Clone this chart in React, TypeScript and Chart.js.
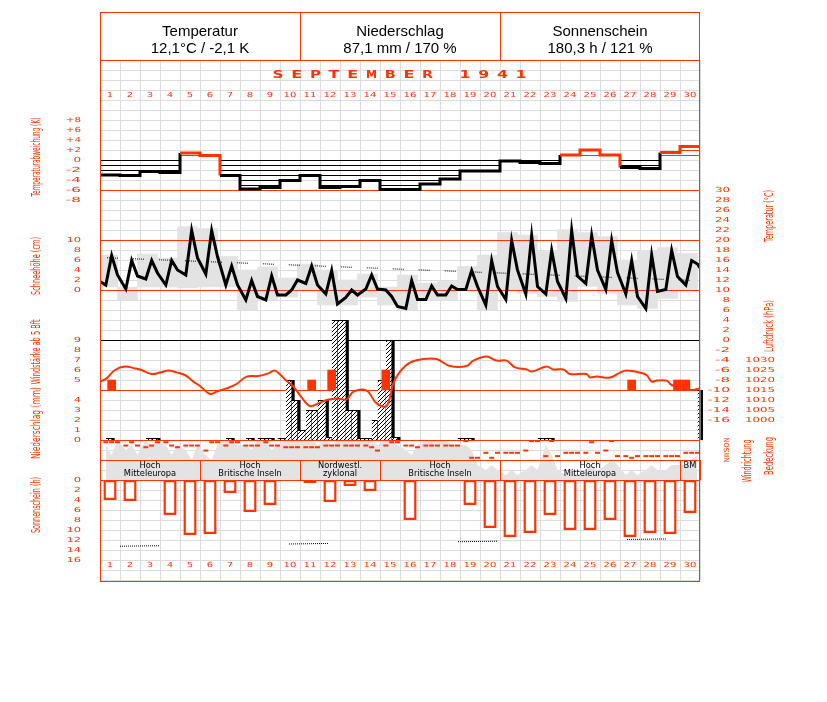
import React, { useEffect, useRef } from 'react';
import { Chart, registerables } from 'chart.js';

Chart.register(...registerables);

const RED = '#ff3300';
const GRAY = '#e3e3e3';
const GRID = '#dcdcdc';
const FONT = '"DejaVu Sans", sans-serif';

// ---------- categories / labels ----------
const dayLabels = ['1','2','3','4','5','6','7','8','9','10','11','12','13','14','15','16','17','18','19','20','21','22','23','24','25','26','27','28','29','30'];
const headerTitles = ['Temperatur', 'Niederschlag', 'Sonnenschein'];
const headerValues = ['12,1°C / -2,1 K', '87,1 mm / 170 %', '180,3 h / 121 %'];
const monthTitle = ['S','E','P','T','E','M','B','E','R','','1','9','4','1'];

// ---------- temperature deviation (K) ----------
const tempDeviation = [-3.0,-3.1,-2.3,-2.5,1.4,0.9,-3.1,-5.8,-5.5,-4.1,-3.1,-5.5,-5.3,-4.1,-5.9,-5.9,-4.8,-3.8,-2.2,-2.2,-0.2,-0.5,-0.7,1.0,2.0,1.0,-1.5,-1.7,1.5,2.7];

// ---------- temperature (°C) at 7, 14, 21 h ----------
const obsHours = [7, 14, 21];
const temp07 = [11.0,10.2,12.2,11.0,13.0,13.2,11.0,8.0,8.0,9.0,11.3,9.2,8.5,10.2,10.0,6.3,8.1,9.0,10.1,7.0,8.1,9.2,9.2,8.3,11.3,10.1,9.2,6.3,10.1,11.0];
const temp14 = [16.9,15.9,15.9,15.9,21.9,21.9,14.8,11.9,12.8,10.0,14.8,13.9,10.0,13.0,8.7,11.9,10.8,10.8,13.9,15.9,19.9,20.9,17.9,21.9,20.9,19.9,15.9,17.0,17.9,15.9];
const temp21 = [13.0,12.8,13.4,14.0,16.4,16.7,11.0,8.7,9.0,12.0,11.0,7.2,9.0,10.2,6.7,8.1,9.0,10.1,10.7,10.7,14.0,10.7,11.7,12.8,14.0,13.5,8.7,9.7,12.7,15.2];
const tempMonthStart = 11.7;
const tempMonthEnd = 14.4;
const tempBoxLow = [10.6,8.0,10.6,10.6,10.4,10.6,10.6,6.0,8.0,8.6,10.0,7.0,7.0,8.6,7.0,6.0,8.0,8.0,10.0,6.0,10.0,9.3,8.7,7.7,10.7,9.3,7.0,6.3,8.3,10.0];
const tempBoxHigh = [17.0,10.6,17.2,16.4,22.7,22.3,16.7,14.0,14.6,12.4,15.2,14.0,12.0,13.2,10.6,13.0,11.4,11.7,14.7,17.0,21.5,21.0,17.7,22.1,21.5,20.7,16.0,17.9,18.5,17.3];
const normalTempStart = 16.5;
const normalTempEnd = 11.85;

// ---------- air pressure (hPa), time in days since month start ----------
const pressureTime = [0,0.33,0.75,1.25,1.75,2.08,2.58,3.0,3.42,3.83,4.25,4.67,5.0,5.5,5.83,6.33,6.83,7.33,7.92,8.42,8.75,9.25,9.67,10.08,10.5,10.92,11.33,11.83,12.33,12.67,13.33,13.83,14.33,14.67,15.0,15.5,16.17,16.83,17.5,18.33,18.67,19.33,19.83,20.33,20.75,21.33,21.58,22.33,22.67,23.17,23.5,24.33,24.5,24.83,25.5,26.0,26.33,27.0,27.33,27.58,27.83,28.33,28.58,28.92,29.5,30.0];
const pressureValue = [1019.2,1020.8,1025.0,1026.7,1025.8,1025.0,1023.0,1023.7,1024.7,1023.8,1022.5,1019.2,1017.0,1013.0,1014.2,1015.8,1018.0,1021.7,1022.0,1023.3,1024.7,1020.3,1016.7,1011.3,1007.0,1008.3,1010.0,1010.8,1010.3,1014.2,1014.7,1008.3,1007.0,1018.3,1024.2,1028.7,1030.5,1030.5,1027.0,1027.0,1029.7,1031.7,1029.7,1029.7,1026.3,1025.3,1024.2,1026.7,1025.3,1025.3,1023.0,1023.0,1021.3,1021.7,1021.2,1023.7,1024.7,1023.7,1022.5,1019.2,1019.7,1019.7,1017.5,1016.7,1015.0,1015.8];

// ---------- wind force >= 5 Bft ----------
const windDay = [1, 11, 12, 15, 27, 29, 30];
const windHour = [14, 14, 14, 7, 14, 21, 7];
const windBft = [5, 5, 6, 6, 5, 5, 5];
const windBase = 4;

// ---------- precipitation (mm): 21h(prev)-7h, 7-14h, 14-21h ----------
const precipNight = [0,0,0,0,0,0,0,0,0.2,0.2,1.0,4.0,12.0,0.2,6.0,0,0,0,0.2,0,0,0,0.2,0,0,0,0,0,0,0];
const precipMorning = [0.2,0,0.2,0,0,0,0.2,0.2,0.2,6.0,3.0,0.3,3.0,0.2,10.0,0,0,0,0.2,0,0,0,0.2,0,0,0,0,0,0,0];
const precipEvening = [0,0,0.2,0,0,0,0,0,0,4.0,3.0,12.0,3.0,2.0,0.3,0,0,0,0,0,0,0,0,0,0,0,0,0,0,0];
const precipAfterMonth = 5.0;

// ---------- sunshine (h) ----------
const sunshine = [4.0,4.2,0,7.0,11.0,10.8,2.6,6.4,5.0,0,0.6,4.4,1.2,2.2,0,8.0,0,0,5.0,9.6,11.4,10.6,7.0,10.0,10.0,8.0,11.4,10.6,10.8,6.6];
const possibleSunStart = 13.3;
const possibleSunEnd = 11.7;

// ---------- cloud cover (octas) and wind direction (deg) at 7, 14, 21 h ----------
const cloud07 = [7,6,8,7,6,5,8,7,8,8,8,8,8,8,8,6,8,8,7,2,1,2,7,1,2,3,1,2,2,3];
const cloud14 = [5,7,7,5,4,4,8,6,6,8,8,7,8,8,8,5,8,7,6,3,2,3,5,2,3,4,2,3,3,4];
const cloud21 = [8,5,8,7,7,7,7,8,7,8,7,8,8,7,7,7,8,7,3,2,1,2,2,1,2,3,1,2,3,5];
const windDir07 = [40,100,130,40,100,190,100,100,40,130,130,100,100,100,100,100,100,100,20,230,230,190,290,230,230,190,290,290,290,230];
const windDir14 = [40,40,100,100,100,40,40,100,100,130,130,100,100,130,40,100,100,100,320,320,230,20,20,230,40,20,320,290,290,230];
const windDir21 = [40,100,40,130,100,40,40,100,100,130,130,100,100,190,40,130,100,100,320,230,230,20,290,230,230,290,290,290,290,230];

// ---------- weather types ----------
const weatherTypeLabels = [['Hoch', 'Mitteleuropa'], ['Hoch', 'Britische Inseln'], ['Nordwestl.', 'zyklonal'], ['Hoch', 'Britische Inseln'], ['Hoch', 'Mitteleuropa'], ['BM']];
const weatherTypeFirstDay = [1, 6, 11, 15, 21, 30];
const weatherTypeLastDay = [5, 10, 14, 20, 29, 30];

// ---------- tick labels ----------
const devTicks = [8, 6, 4, 2, 0, -2, -4, -6, -8];
const snowTicks = [10, 8, 6, 4, 2, 0];
const windTicks = [9, 8, 7, 6, 5];
const precipTicks = [4, 3, 2, 1, 0];
const sunTicks = [0, 2, 4, 6, 8, 10, 12, 14, 16];
const tempTicks = [30,28,26,24,22,20,18,16,14,12,10,8,6,4,2,0,-2,-4,-6,-8,-10,-12,-14,-16];
const pressureTicks = [1030, 1025, 1020, 1015, 1010, 1005, 1000];
const dirTicks = [0, 90, 180, 270, 360];
const dirTickLabels = ['N', 'O', 'S', 'W', 'N'];

function hLinePattern(color: string) {
  const c = document.createElement('canvas');
  c.width = 5; c.height = 5;
  const g = c.getContext('2d')!;
  g.fillStyle = color;
  g.fillRect(0, 0, 5, 1);
  return g.createPattern(c, 'repeat')!;
}
function diagPattern() {
  const c = document.createElement('canvas');
  c.width = 4; c.height = 4;
  const g = c.getContext('2d')!;
  g.fillStyle = '#ffffff';
  g.fillRect(0, 0, 4, 4);
  g.fillStyle = '#000000';
  g.fillRect(3, 0, 1, 1); g.fillRect(2, 1, 1, 1); g.fillRect(1, 2, 1, 1); g.fillRect(0, 3, 1, 1);
  return g.createPattern(c, 'repeat')!;
}

type TxtOpt = { size: number; adv?: number; sx?: number; color?: string; align?: CanvasTextAlign; bold?: boolean; rot?: number; family?: string };
function txt(ctx: CanvasRenderingContext2D, s: string, x: number, y: number, o: TxtOpt) {
  ctx.save();
  ctx.font = `${o.bold ? 'bold ' : ''}${o.size}px ${o.family || FONT}`;
  const w = ctx.measureText(s).width;
  let sx = o.sx || 1;
  if (o.adv && w > 0) sx = (o.adv * s.length) / w;
  ctx.translate(x, y);
  if (o.rot) ctx.rotate(o.rot);
  ctx.scale(sx, 1);
  ctx.fillStyle = o.color || RED;
  ctx.textAlign = o.align || 'center';
  ctx.textBaseline = 'middle';
  ctx.fillText(s, 0, 0);
  ctx.restore();
}

function hLine(ctx: CanvasRenderingContext2D, y: number, x0: number, x1: number, color: string) {
  const yy = Math.round(y) + 0.5;
  ctx.strokeStyle = color;
  ctx.lineWidth = 1;
  ctx.beginPath();
  ctx.moveTo(x0, yy);
  ctx.lineTo(x1, yy);
  ctx.stroke();
}
function vLine(ctx: CanvasRenderingContext2D, x: number, y0: number, y1: number, color: string) {
  const xx = Math.round(x) + 0.5;
  ctx.strokeStyle = color;
  ctx.lineWidth = 1;
  ctx.beginPath();
  ctx.moveTo(xx, y0);
  ctx.lineTo(xx, y1);
  ctx.stroke();
}

const climatePlugin = {
  id: 'climatePlugin',
  beforeDatasetsDraw(chart: any) {
    const ctx = chart.ctx as CanvasRenderingContext2D;
    const { left, right, top, bottom } = chart.chartArea;
    const x = chart.scales.x;
    const yDev = chart.scales.yDev;
    ctx.save();
    for (let v = 20; v >= -84; v -= 2) hLine(ctx, yDev.getPixelForValue(v), left, right, GRID);
    for (let d = 0; d <= 30; d++) vLine(ctx, x.getPixelForValue(d), top, bottom, GRID);
    ctx.restore();
    chart.$refLinesDone = false;
  },
  beforeDatasetDraw(chart: any, args: any) {
    const ds = chart.data.datasets[args.index];
    const ctx = chart.ctx as CanvasRenderingContext2D;
    if (!chart.$refLinesDone && (ds.order ?? 0) < 10) {
      chart.$refLinesDone = true;
      const { left, right } = chart.chartArea;
      const s = chart.scales;
      ctx.save();
      hLine(ctx, s.yDev.getPixelForValue(-6), left, right, RED);
      hLine(ctx, s.yTemp.getPixelForValue(20), left, right, RED);
      hLine(ctx, s.yTemp.getPixelForValue(10), left, right, RED);
      hLine(ctx, s.yTemp.getPixelForValue(0), left, right, '#000000');
      hLine(ctx, s.yPress.getPixelForValue(1015), left, right, RED);
      hLine(ctx, s.yPrec.getPixelForValue(0), left, right, RED);
      hLine(ctx, s.yCloud.getPixelForValue(4), left, right, RED);
      hLine(ctx, s.ySun.getPixelForValue(0), left, right, RED);
      ctx.restore();
    }
    if (ds.shadowShift) {
      ctx.save();
      ctx.translate(ds.shadowShift, 0);
    }
  },
  afterDatasetDraw(chart: any, args: any) {
    const ds = chart.data.datasets[args.index];
    if (ds.shadowShift) chart.ctx.restore();
  },
  afterDatasetsDraw(chart: any) {
    const ctx = chart.ctx as CanvasRenderingContext2D;
    const { left, right, top } = chart.chartArea;
    const s = chart.scales;
    const x = s.x;
    ctx.save();
    // weather type boxes
    const wTop = s.yCloud.getPixelForValue(4);
    const wBot = s.yCloud.getPixelForValue(0);
    weatherTypeLabels.forEach((lines, k) => {
      const x0 = x.getPixelForValue(weatherTypeFirstDay[k] - 1);
      const x1 = x.getPixelForValue(weatherTypeLastDay[k]);
      vLine(ctx, x0, wTop, wBot, RED);
      vLine(ctx, x1, wTop, wBot, RED);
      const cx = (x0 + x1) / 2;
      lines.forEach((ln, j) => txt(ctx, ln, cx, wTop + 6 + j * 7.5, { size: 9, sx: 0.92, color: '#000000' }));
    });
    // frame + header
    const frameTop = 12;
    const frameBottom = 581;
    ctx.strokeStyle = RED;
    ctx.lineWidth = 1;
    ctx.strokeRect(left + 0.5, frameTop + 0.5, right - left - 1, frameBottom - frameTop);
    hLine(ctx, top, left, right, RED);
    vLine(ctx, x.getPixelForValue(10), frameTop, top, RED);
    vLine(ctx, x.getPixelForValue(20), frameTop, top, RED);
    headerTitles.forEach((t, k) => {
      const cx = x.getPixelForValue(5 + k * 10);
      txt(ctx, t, cx, 32, { size: 15, color: '#000000', family: '"Liberation Sans", Arial, sans-serif' });
      txt(ctx, headerValues[k], cx, 49, { size: 15, color: '#000000', family: '"Liberation Sans", Arial, sans-serif' });
    });
    // month title
    monthTitle.forEach((ch, i) => {
      if (ch) txt(ctx, ch, 278 + i * 18.7, 75.5, { size: 10, adv: 11, bold: true });
    });
    // day labels
    dayLabels.forEach((d, i) => {
      const cx = x.getPixelForValue(i + 0.5);
      txt(ctx, d, cx, 95.5, { size: 7, adv: 6.4 });
      txt(ctx, d, cx, 565.5, { size: 7, adv: 6.4 });
    });
    // left ticks
    const lx = 81;
    devTicks.forEach(v => txt(ctx, v > 0 ? '+' + v : String(v), lx, s.yDev.getPixelForValue(v), { size: 7, adv: 7.6, align: 'right' }));
    snowTicks.forEach(v => txt(ctx, String(v), lx, s.ySnow.getPixelForValue(v), { size: 7, adv: 7.3, align: 'right' }));
    windTicks.forEach(v => txt(ctx, String(v), lx, s.yWind.getPixelForValue(v), { size: 7, adv: 7.3, align: 'right' }));
    precipTicks.forEach(v => txt(ctx, String(v), lx, s.yPrec.getPixelForValue(v), { size: 7, adv: 7.3, align: 'right' }));
    sunTicks.forEach(v => txt(ctx, String(v), lx, s.ySun.getPixelForValue(v), { size: 7, adv: 7.3, align: 'right' }));
    // right ticks
    tempTicks.forEach(v => txt(ctx, String(v), 730, s.yTemp.getPixelForValue(v), { size: 7, adv: 7.5, align: 'right' }));
    pressureTicks.forEach(v => txt(ctx, String(v), 775, s.yPress.getPixelForValue(v), { size: 7, adv: 7.5, align: 'right' }));
    dirTicks.forEach((v, k) => txt(ctx, dirTickLabels[k], 727, s.yDir.getPixelForValue(v), { size: 7, adv: 5, rot: -Math.PI / 2 }));
    // axis titles
    const R = -Math.PI / 2;
    txt(ctx, 'Temperaturabweichung (K)', 36.5, 157, { size: 12, adv: 79 / 24, rot: R });
    txt(ctx, 'Schneehöhe (cm)', 36.5, 266, { size: 12, adv: 58 / 15, rot: R });
    txt(ctx, 'Windstärke ab 5 Bft', 36.5, 352, { size: 12, adv: 65 / 19, rot: R });
    txt(ctx, 'Niederschlag (mm)', 36.5, 423, { size: 12, adv: 72 / 17, rot: R });
    txt(ctx, 'Sonnenschein (h)', 36.5, 505, { size: 12, adv: 56 / 16, rot: R });
    txt(ctx, 'Temperatur (°C)', 770, 216, { size: 12, adv: 52 / 15, rot: R });
    txt(ctx, 'Luftdruck (hPa)', 770, 326, { size: 12, adv: 52 / 15, rot: R });
    txt(ctx, 'Windrichtung', 748, 461, { size: 12, adv: 43 / 12, rot: R });
    txt(ctx, 'Bedeckung', 770, 456, { size: 12, adv: 38 / 9, rot: R });
    ctx.restore();
  },
};

export default function App() {
  const ref = useRef<HTMLCanvasElement>(null);
  useEffect(() => {
    const canvas = ref.current!;
    const hatchBlack = hLinePattern('#000000');
    const hatchRed = hLinePattern(RED);
    const diag = diagPattern();

    const devPoints = tempDeviation.map((v, i) => ({ x: i, y: v }));
    devPoints.push({ x: 30, y: tempDeviation[tempDeviation.length - 1] });

    const tempSeries = [temp07, temp14, temp21];
    const tempPoints: { x: number; y: number }[] = [{ x: 0, y: tempMonthStart }];
    dayLabels.forEach((_, i) => obsHours.forEach((h, k) => tempPoints.push({ x: i + h / 24, y: tempSeries[k][i] })));
    tempPoints.push({ x: 30, y: tempMonthEnd });

    const boxPoints = tempBoxLow.map((lo, i) => ({ x: i + 0.5 - 3 / 24, y: [lo, tempBoxHigh[i]] }));

    const cloudSeries = [cloud07, cloud14, cloud21];
    const cloudPoints: { x: number; y: number }[] = [];
    dayLabels.forEach((_, i) => obsHours.forEach((h, k) => cloudPoints.push({ x: i + h / 24, y: cloudSeries[k][i] })));

    const dirSeries = [windDir07, windDir14, windDir21];
    const dirPoints: { x: number; y: number }[] = [];
    dayLabels.forEach((_, i) => obsHours.forEach((h, k) => dirPoints.push({ x: i + h / 24, y: dirSeries[k][i] })));

    const pressurePoints = pressureTime.map((t, k) => ({ x: t, y: pressureValue[k] }));
    const windPoints = windDay.map((d, k) => ({ x: d - 1 + windHour[k] / 24, y: [windBase, windBft[k]] }));

    const nightPts = precipNight.map((v, i) => ({ x: i + 2 / 24, y: v })).filter(p => p.y > 0);
    nightPts.push({ x: 30 + 2 / 24, y: precipAfterMonth });
    const mornPts = precipMorning.map((v, i) => ({ x: i + 10.5 / 24, y: v })).filter(p => p.y > 0);
    const evenPts = precipEvening.map((v, i) => ({ x: i + 17.5 / 24, y: v })).filter(p => p.y > 0);

    const sunPoints = sunshine.map((h, i) => ({ x: i + 0.5, y: h })).filter(p => p.y > 0);

    const precipBase = { categoryPercentage: 1, grouped: false, yAxisID: 'yPrec', borderSkipped: false };
    const hatchStyle = { ...precipBase, backgroundColor: diag, borderColor: '#000000', borderWidth: { top: 1, right: 0, left: 0, bottom: 0 }, order: 6 };
    const shadowStyle = { ...precipBase, backgroundColor: '#000000', borderWidth: 0, shadowShift: 3, order: 7 };

    const xs = () => ({ type: 'linear', min: 0, max: 30, display: false, offset: false, grid: { offset: false }, ticks: { stepSize: 1 } });
    const ys = (min: number, max: number, reverse = false) => ({ type: 'linear', min, max, reverse, display: false });

    const chart = new Chart(canvas, {
      type: 'bar',
      data: {
        datasets: [
          { type: 'line', label: 'cloud', data: cloudPoints, xAxisID: 'x', yAxisID: 'yCloud', backgroundColor: GRAY, borderWidth: 0, pointRadius: 0, fill: { value: 0 }, order: 12 } as any,
          { type: 'bar', label: 'tempBox', data: boxPoints, xAxisID: 'xBox', yAxisID: 'yTemp', backgroundColor: GRAY, borderWidth: 0, barPercentage: 1, categoryPercentage: 1, grouped: false, order: 11 } as any,
          { type: 'bar', label: 'precipNightShadow', data: nightPts, xAxisID: 'xPN', barPercentage: 10 / 24, ...shadowStyle } as any,
          { type: 'bar', label: 'precipMorningShadow', data: mornPts, xAxisID: 'xPM', barPercentage: 7 / 24, ...shadowStyle } as any,
          { type: 'bar', label: 'precipEveningShadow', data: evenPts, xAxisID: 'xPA', barPercentage: 7 / 24, ...shadowStyle } as any,
          { type: 'bar', label: 'precipNight', data: nightPts, xAxisID: 'xPN', barPercentage: 10 / 24, ...hatchStyle } as any,
          { type: 'bar', label: 'precipMorning', data: mornPts, xAxisID: 'xPM', barPercentage: 7 / 24, ...hatchStyle } as any,
          { type: 'bar', label: 'precipEvening', data: evenPts, xAxisID: 'xPA', barPercentage: 7 / 24, ...hatchStyle } as any,
          { type: 'bar', label: 'wind', data: windPoints, xAxisID: 'xWind', yAxisID: 'yWind', backgroundColor: RED, borderWidth: 0, barThickness: 8, grouped: false, order: 5 } as any,
          { type: 'bar', label: 'sun', data: sunPoints, xAxisID: 'xSun', yAxisID: 'ySun', backgroundColor: '#ffffff', borderColor: RED, borderWidth: 2.5, borderSkipped: false, barPercentage: 0.66, categoryPercentage: 1, grouped: false, order: 5 } as any,
          { type: 'line', label: 'possibleSun', data: [{ x: 0, y: possibleSunStart }, { x: 30, y: possibleSunEnd }], xAxisID: 'x', yAxisID: 'ySun', borderColor: '#000000', borderWidth: 1, borderDash: [1,1,1,1,1,1,1,1,1,1,1,1,1,1,1,1,1,1,1,1,1,1,1,1,1,1,1,1,1,1,1,1,1,1,1,1,1,1,1,130], borderDashOffset: -20, pointRadius: 0, order: 4 } as any,
          { type: 'line', label: 'pressure', data: pressurePoints, xAxisID: 'x', yAxisID: 'yPress', borderColor: RED, borderWidth: 2, pointRadius: 0, tension: 0.35, order: 3 } as any,
          { type: 'line', label: 'deviation', data: devPoints, xAxisID: 'x', yAxisID: 'yDev', stepped: 'before', borderWidth: 3, borderColor: '#000000', pointRadius: 0,
            segment: { borderColor: (c: any) => (c.p0.parsed.y >= 0 ? RED : '#000000') },
            fill: { target: 'origin', above: hatchRed, below: hatchBlack }, order: 3 } as any,
          { type: 'line', label: 'normalTemp', data: [{ x: 0, y: normalTempStart }, { x: 30, y: normalTempEnd }], xAxisID: 'x', yAxisID: 'yTemp', borderColor: '#000000', borderWidth: 1, borderDash: [1,1,1,1,1,1,1,1,1,1,1,15], borderDashOffset: -7, pointRadius: 0, order: 2 } as any,
          { type: 'line', label: 'temperature', data: tempPoints, xAxisID: 'x', yAxisID: 'yTemp', borderColor: '#000000', borderWidth: 3, pointRadius: 0, tension: 0, order: 1 } as any,
          { type: 'line', label: 'windDir', data: dirPoints, xAxisID: 'x', yAxisID: 'yDir', showLine: false, pointStyle: 'line', pointRadius: 2.5, pointBorderWidth: 2, pointBorderColor: RED, borderColor: RED, order: 1 } as any,
        ],
      },
      options: {
        responsive: false,
        animation: false,
        devicePixelRatio: 1,
        layout: { padding: { left: 100, top: 60, right: 127, bottom: 122 } },
        plugins: { legend: { display: false }, tooltip: { enabled: false } },
        events: [],
        scales: {
          x: xs(),
          xBox: xs(),
          xPN: xs(),
          xPM: xs(),
          xPA: xs(),
          xWind: xs(),
          xSun: xs(),
          yDev: ys(-84, 20),
          yTemp: ys(-48, 56),
          ySnow: ys(-58, 46),
          yPress: ys(920, 1180),
          yWind: ys(-15, 37),
          yPrec: ys(-14, 38),
          yCloud: ys(-20, 84),
          yDir: ys(-6840, 2520, true),
          ySun: ys(-84, 20, true),
        } as any,
      },
      plugins: [climatePlugin as any],
    } as any);
    return () => chart.destroy();
  }, []);
  return <canvas ref={ref} width={827} height={702} style={{ position: 'absolute', left: 0, top: 0, display: 'block' }} />;
}
